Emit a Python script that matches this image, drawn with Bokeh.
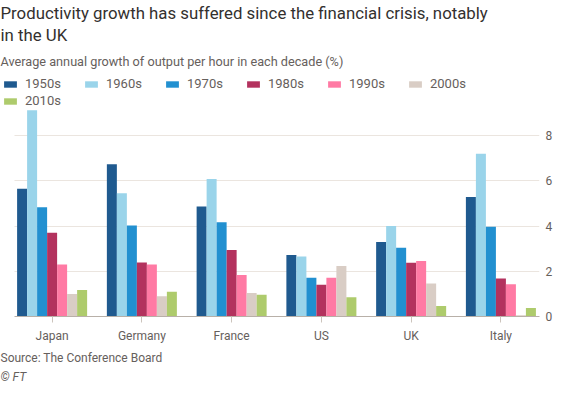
from bokeh.plotting import figure
from bokeh.models import Legend, LegendItem, Title, FixedTicker, ColumnDataSource
from bokeh.embed import file_html
from bokeh.resources import INLINE

countries = ["Japan", "Germany", "France", "US", "UK", "Italy"]
decades = ["1950s", "1960s", "1970s", "1980s", "1990s", "2000s", "2010s"]
colors = ["#1f5a8f", "#9ad4ea", "#2290d0", "#b3325e", "#ff7aa4", "#d9cdc5", "#aecb6c"]

g1950s = [5.65, 6.74, 4.87, 2.72, 3.30, 5.29]
g1960s = [9.13, 5.46, 6.09, 2.65, 4.00, 7.20]
g1970s = [4.83, 4.03, 4.17, 1.72, 3.04, 3.97]
g1980s = [3.71, 2.39, 2.94, 1.41, 2.38, 1.68]
g1990s = [2.30, 2.30, 1.84, 1.72, 2.46, 1.43]
g2000s = [1.00, 0.90, 1.04, 2.23, 1.46, 0.05]
g2010s = [1.17, 1.10, 0.96, 0.85, 0.46, 0.38]
series = [g1950s, g1960s, g1970s, g1980s, g1990s, g2000s, g2010s]

TXT = "#66605c"
FONT = "Roboto"
X0, X1 = -0.575, 5.43

p = figure(width=555, height=383, x_range=(X0, X1), y_range=(0, 10.71),
           output_backend="svg", toolbar_location=None, title=None,
           y_axis_location="right", min_border_left=0, min_border_right=0,
           min_border_top=0, min_border_bottom=0)
p.outline_line_color = None
p.background_fill_color = "white"
p.border_fill_color = "white"

group = 0.78
bw = group / len(decades)
items = []
for j, (dec, vals, col) in enumerate(zip(decades, series, colors)):
    xs = [i - group / 2 + bw * (j + 0.5) for i in range(len(countries))]
    src = ColumnDataSource(dict(x=xs, top=vals))
    r = p.vbar(x="x", top="top", bottom=0, width=bw, source=src,
               fill_color=col, line_color=None)
    items.append(LegendItem(label=dec, renderers=[r]))

p.xgrid.grid_line_color = None
p.ygrid.grid_line_color = "#ebe5df"
p.ygrid.ticker = FixedTicker(ticks=[2, 4, 6, 8])
try:
    p.ygrid.cross_bounds = (-0.42, X1)
except Exception:
    pass

ya = p.yaxis[0]
ya.ticker = FixedTicker(ticks=[0, 2, 4, 6, 8])
ya.axis_line_color = None
ya.major_tick_line_color = None
ya.major_tick_in = 0
ya.major_tick_out = 0
ya.minor_tick_line_color = None
ya.minor_tick_in = 0
ya.minor_tick_out = 0
ya.major_label_text_color = TXT
ya.major_label_text_font = FONT
ya.major_label_text_font_size = "12px"
ya.major_label_standoff = 6

xa = p.xaxis[0]
xa.ticker = FixedTicker(ticks=list(range(len(countries))))
xa.major_label_overrides = {i: c for i, c in enumerate(countries)}
xa.bounds = (-0.42, X1)
xa.axis_line_color = "#b8b0a8"
xa.major_tick_line_color = "#ccc4bc"
xa.major_tick_in = 0
xa.major_tick_out = 6
xa.minor_tick_line_color = None
xa.minor_tick_in = 0
xa.minor_tick_out = 0
xa.major_label_text_color = TXT
xa.major_label_text_font = FONT
xa.major_label_text_font_size = "12px"
xa.major_label_standoff = 6

legend = Legend(items=items, orientation="horizontal", ncols=6,
                location="top_left", glyph_width=16, glyph_height=8,
                label_standoff=7, label_width=56, label_height=14, spacing=2,
                padding=0, margin=2, border_line_color=None,
                background_fill_alpha=0, label_text_font=FONT,
                label_text_font_size="13px", label_text_color=TXT)
p.add_layout(legend, "center")

sub = Title(text="Average annual growth of output per hour in each decade (%)",
            text_font=FONT, text_font_size="12.7px", text_color=TXT,
            text_font_style="normal", standoff=12)
p.add_layout(sub, "above")
t2 = Title(text="in the UK", text_font=FONT, text_font_size="16.8px",
           text_color="#33302e", text_font_style="normal", standoff=1)
p.add_layout(t2, "above")
t1 = Title(text="Productivity growth has suffered since the financial crisis, notably",
           text_font=FONT, text_font_size="16.8px", text_color="#33302e",
           text_font_style="normal", standoff=0)
p.add_layout(t1, "above")

s1 = Title(text="Source: The Conference Board", text_font=FONT, text_font_size="12px",
           text_color=TXT, text_font_style="normal", standoff=6)
p.add_layout(s1, "below")
s2 = Title(text="\u00a9 FT", text_font=FONT, text_font_size="12px",
           text_color=TXT, text_font_style="italic", standoff=0)
p.add_layout(s2, "below")

open("out.html", "w").write(file_html(p, INLINE))
